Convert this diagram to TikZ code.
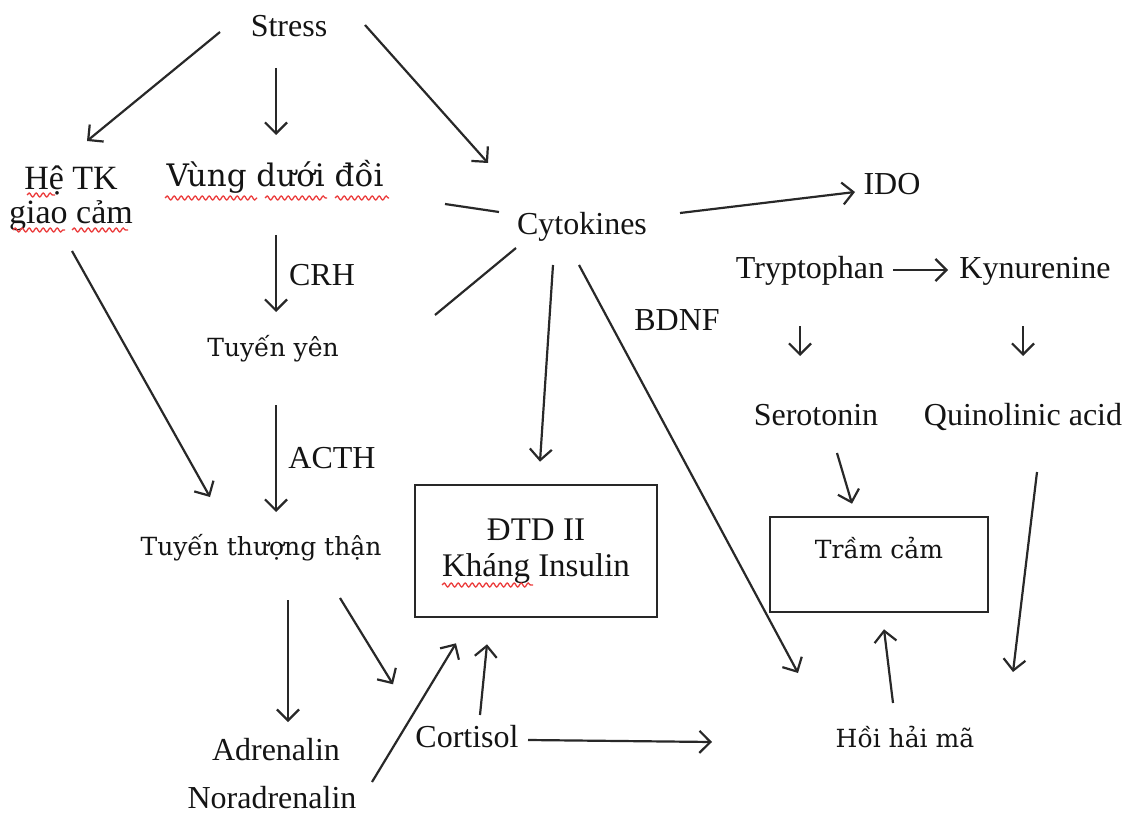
\documentclass[tikz,border=0pt]{standalone}
\usepackage{fontspec}
\setmainfont{Liberation Serif}
\newfontfamily\wideserif{DejaVu Serif}
\usepackage{tikz}
\usetikzlibrary{arrows.meta}
\usetikzlibrary{decorations.pathmorphing}
\usepackage{xcolor}
\definecolor{LineGray}{RGB}{40,40,40}
\definecolor{SpellRed}{RGB}{235,60,60}
\tikzstyle{Label}=[inner sep=0pt,text=black!92,font=\fontsize{32}{36}\selectfont]
\tikzstyle{BigLabel}=[Label,align=center,font=\fontsize{34}{34}\selectfont]
\tikzstyle{Gland}=[inner sep=0pt,text=black!92,font=\wideserif\fontsize{25}{30}\selectfont]
\tikzstyle{BoxNode}=[draw=LineGray,line width=2.6pt]
\tikzstyle{Arrow}=[LineGray,line width=2.2pt,-{Straight Barb[length=11pt,width=22pt]}]
\tikzstyle{Link}=[LineGray,line width=2.2pt]
\tikzstyle{Squiggle}=[SpellRed,line width=1.3pt,decorate,decoration={snake,segment length=7pt,amplitude=2pt}]

\begin{document}
\begin{tikzpicture}[x=1pt,y=-1pt]
        \useasboundingbox(0,0)rectangle(1138,813);
        \node[Label,anchor=base](stress)at(289,37){Stress};
        \node[BigLabel](hetk)at(71,198){Hệ TK\\giao cảm};
        \node[BigLabel,anchor=base,font=\wideserif\fontsize{31}{34}\selectfont](vung)at(275,187){Vùng dưới đồi};
        \node[Label,anchor=base](cyto)at(582,235){Cytokines};
        \node[Label,anchor=base](ido)at(892,195){IDO};
        \node[Label,anchor=base](tryp)at(810,278){Tryptophan};
        \node[Label,anchor=base](kyn)at(1035,278){Kynurenine};
        \node[Label,anchor=base](crh)at(322,285){CRH};
        \node[Gland,anchor=base](yen)at(273,356){Tuyến yên};
        \node[Label,anchor=base](bdnf)at(677,330){BDNF};
        \node[Label,anchor=base](sero)at(816,425){Serotonin};
        \node[Label,anchor=base](quin)at(1023,425){Quinolinic acid};
        \node[Label,anchor=base](acth)at(332,468){ACTH};
        \node[Label,BoxNode,align=center,font=\fontsize{33}{36}\selectfont,minimum width=242pt,minimum height=132pt](dtd)at(536,551){ĐTD II\\Kháng Insulin};
        \node[Gland,anchor=base](than)at(261,555){Tuyến thượng thận};
        \node[Gland,BoxNode,anchor=base,minimum width=218pt,text height=41pt,text depth=54pt](tram)at(879,558){Trầm cảm};
        \node[Label,anchor=base](adr)at(276,760){Adrenalin};
        \node[Label,anchor=base](nor)at(272,808){Noradrenalin};
        \node[Label,anchor=base](cort)at(467,747){Cortisol};
        \node[Gland,anchor=base](hoi)at(905,747){Hồi hải mã};
        \draw[Squiggle]([shift={(-44,-3)}]hetk.center)--([shift={(-16,-3)}]hetk.center);
        \draw[Squiggle]([shift={(-58,32)}]hetk.center)--([shift={(-6,32)}]hetk.center);
        \draw[Squiggle]([shift={(1,32)}]hetk.center)--([shift={(57,32)}]hetk.center);
        \draw[Squiggle]([shift={(-110,11)}]vung.base)--([shift={(-18,11)}]vung.base);
        \draw[Squiggle]([shift={(-10,11)}]vung.base)--([shift={(52,11)}]vung.base);
        \draw[Squiggle]([shift={(60,11)}]vung.base)--([shift={(114,11)}]vung.base);
        \draw[Squiggle]([shift={(-94,34)}]dtd.center)--([shift={(-3,34)}]dtd.center);
        \draw[Arrow]([shift={(-69,-5)}]stress.base)--([shift={(16,-57)}]hetk.center);
        \draw[Arrow]([shift={(-13,31)}]stress.base)--([shift={(1,-52)}]vung.base);
        \draw[Arrow]([shift={(76,-12)}]stress.base)--([shift={(-94,-72)}]cyto.base);
        \draw[Link]([shift={(170,17)}]vung.base)--([shift={(-83,-23)}]cyto.base);
        \draw[Arrow]([shift={(98,-22)}]cyto.base)--([shift={(-37,-3)}]ido.base);
        \draw[Link]([shift={(-66,13)}]cyto.base)--([shift={(162,-41)}]yen.base);
        \draw[Arrow]([shift={(-29,30)}]cyto.base)--([shift={(4,-22)}]dtd.north);
        \draw[Arrow]([shift={(-3,30)}]cyto.base)--([shift={(-107,-74)}]hoi.base);
        \draw[Arrow]([shift={(83,-8)}]tryp.base)--([shift={(-87,-8)}]kyn.base);
        \draw[Arrow]([shift={(-10,48)}]tryp.base)--([shift={(-16,-69)}]sero.base);
        \draw[Arrow]([shift={(-12,48)}]kyn.base)--([shift={(0,-69)}]quin.base);
        \draw[Arrow]([shift={(21,28)}]sero.base)--([shift={(-27,-12)}]tram.north);
        \draw[Arrow]([shift={(14,47)}]quin.base)--([shift={(108,-75)}]hoi.base);
        \draw[Arrow]([shift={(-12,-44)}]hoi.base)--([shift={(5,16)}]tram.south);
        \draw[Arrow]([shift={(1,48)}]vung.base)--([shift={(3,-44)}]yen.base);
        \draw[Arrow]([shift={(3,49)}]yen.base)--([shift={(15,-43)}]than.base);
        \draw[Arrow]([shift={(1,53)}]hetk.center)--([shift={(-51,-58)}]than.base);
        \draw[Arrow]([shift={(27,45)}]than.base)--([shift={(12,-38)}]adr.base);
        \draw[Arrow]([shift={(79,43)}]than.base)--([shift={(-143,66)}]dtd.south);
        \draw[Arrow]([shift={(100,-26)}]nor.base)--([shift={(-80,25)}]dtd.south);
        \draw[Arrow]([shift={(13,-32)}]cort.base)--([shift={(-49,26)}]dtd.south);
        \draw[Arrow]([shift={(61,-7)}]cort.base)--([shift={(-193,-5)}]hoi.base);
    \end{tikzpicture}
\end{document}
